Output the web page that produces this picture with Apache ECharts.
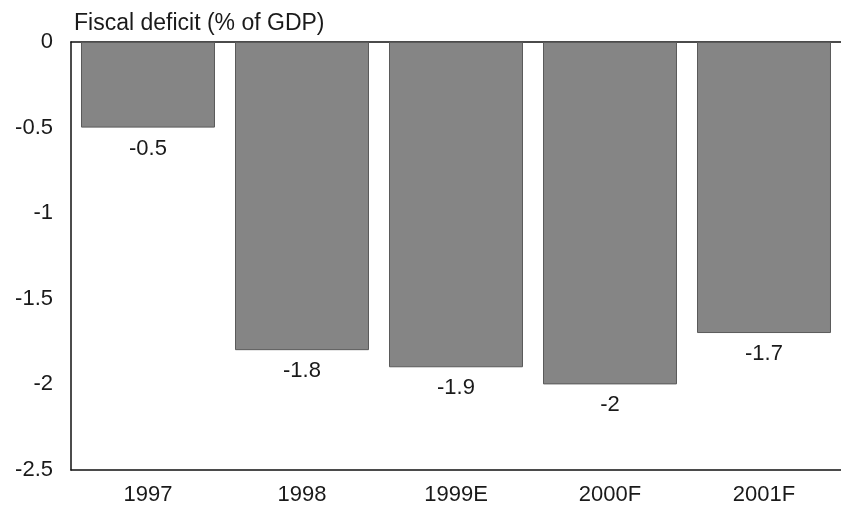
<!DOCTYPE html>
<html>
<head>
<meta charset="utf-8">
<script src="https://cdn.jsdelivr.net/npm/echarts@6/dist/echarts.min.js"></script>
<style>html,body{margin:0;padding:0;background:#fff;}#c{width:841px;height:511px;}</style>
</head>
<body>
<div id="c"></div>
<script>
const categories = ['1997', '1998', '1999E', '2000F', '2001F'];
const deficit = [-0.5, -1.8, -1.9, -2, -1.7];
const yTicks = [0, -0.5, -1, -1.5, -2, -2.5];
const title = 'Fiscal deficit (% of GDP)';

const chart = echarts.init(document.getElementById('c'));
const font = 'Liberation Sans, Arial, sans-serif';
chart.setOption({
  animation: false,
  backgroundColor: '#ffffff',
  title: {
    text: title, left: 69, top: 7,
    textStyle: { fontFamily: font, fontSize: 23, fontWeight: 'normal', color: '#1a1a1a' }
  },
  grid: { left: 71, right: 0, top: 42, bottom: 41, containLabel: false },
  xAxis: [{
    type: 'category', data: categories, position: 'bottom',
    axisLine: { onZero: false, lineStyle: { color: '#111', width: 1.5 } },
    axisTick: { show: false },
    axisLabel: { fontFamily: font, fontSize: 22, color: '#1a1a1a', margin: 14 }
  }, {
    type: 'category', data: categories, position: 'top',
    axisLine: { onZero: false, lineStyle: { color: '#111', width: 1.5 } },
    axisTick: { show: false }, axisLabel: { show: false }
  }],
  yAxis: {
    type: 'value', min: -2.5, max: 0, interval: 0.5,
    axisLine: { show: true, lineStyle: { color: '#111', width: 1.5 } },
    axisTick: { show: false },
    splitLine: { show: false },
    axisLabel: {
      fontFamily: font, fontSize: 22, color: '#1a1a1a', margin: 18,
      formatter: v => yTicks.includes(v) ? String(v) : ''
    }
  },
  series: [{
    type: 'bar', data: deficit, barCategoryGap: '13%',
    itemStyle: { color: '#858585', borderColor: '#5a5a5a', borderWidth: 1 },
    label: {
      show: true, position: 'bottom', distance: 10,
      fontFamily: font, fontSize: 22, color: '#1a1a1a',
      formatter: p => String(p.value)
    }
  }]
});
</script>
</body>
</html>
